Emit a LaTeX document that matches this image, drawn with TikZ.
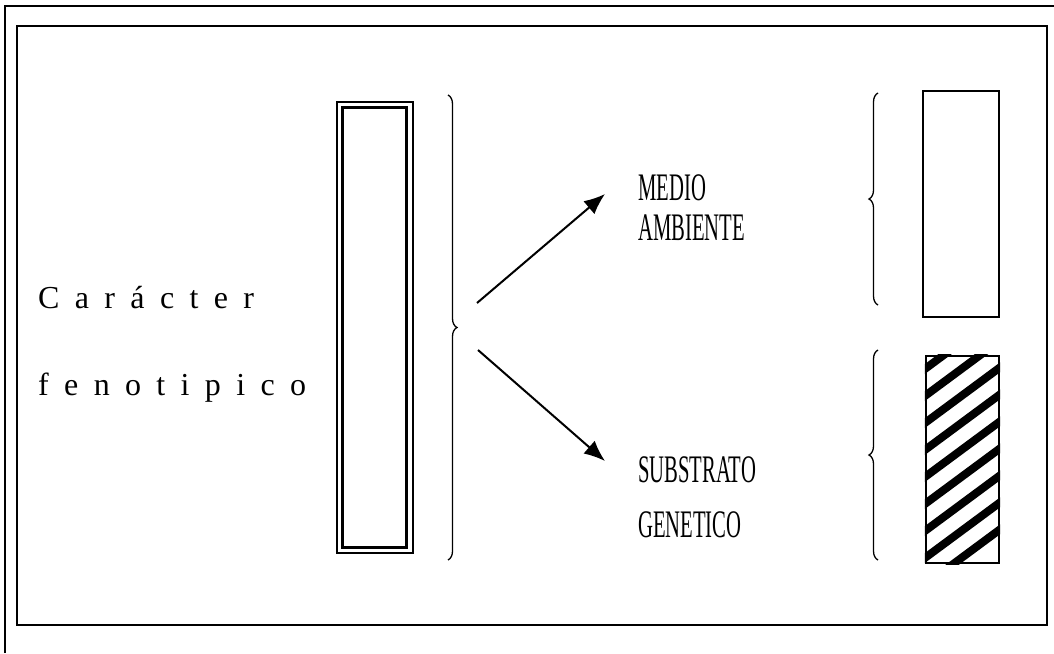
\documentclass[tikz,border=0pt]{standalone}
\usepackage{fontspec}
\setmainfont{Liberation Serif}
\newfontfamily\spaced[LetterSpace=48]{Liberation Serif}
\newfontfamily\narrow[FakeStretch=0.53]{Liberation Serif}
\usetikzlibrary{arrows.meta,decorations.pathreplacing}

\tikzset{
  frame/.style={line width=1.6pt},
  brc/.style={decorate,decoration={brace,amplitude=9pt},line width=1.3pt},
  arr/.style={line width=2pt,-{Latex[length=21pt,width=17pt]}},
  lefttext/.style={anchor=base west,inner sep=0pt,font=\fontsize{32}{32}\spaced},
  righttext/.style={anchor=base west,inner sep=0pt,font=\fontsize{39}{39}\narrow},
}

\begin{document}
\begin{tikzpicture}[x=1pt,y=-1pt]
  \useasboundingbox (0,0) rectangle (1054,653);

  % frames
  \draw[frame] (5,653)--(5,6)--(1054,6);
  \draw[frame] (17,26) rectangle (1047,625);

  % left text
  \node[lefttext] (caracter) at (38,308) {Carácter};
  \node[lefttext] (fenotipico) at (38,395) {fenotipico};

  % column
  \node[draw,line width=1.3pt,minimum width=76pt,minimum height=451pt,inner sep=0pt] (col) at (375,327.5) {};
  \draw[line width=2.6pt] ([shift={(6,6)}]col.north west) rectangle ([shift={(-7,-6)}]col.south east);

  % brace and arrows
  \draw[brc] (448,95) -- (448,560);
  \coordinate (up) at (477,303);
  \coordinate (down) at (478,350);
  \coordinate (upend) at (605,194);
  \coordinate (downend) at (605,461);
  \draw[arr] (up) -- (upend);
  \draw[arr] (down) -- (downend);

  % right texts
  \node[righttext] (medio) at (638,200) {MEDIO};
  \node[righttext] (ambiente) at (638,240) {AMBIENTE};
  \node[righttext] (substrato) at (638,482) {SUBSTRATO};
  \node[righttext] (genetico) at (638,537) {GENETICO};

  % right braces
  \draw[brc] (878,305) -- (878,93);
  \draw[brc] (878,560) -- (878,350);

  % boxes
  \node[draw,line width=1.5pt,minimum width=76pt,minimum height=226pt,inner sep=0pt] (medbox) at (961,204) {};
  \node[draw,line width=2.2pt,minimum width=73pt,minimum height=207pt,inner sep=0pt] (genbox) at (962.5,459.5) {};
  \begin{scope}
    \clip (genbox.north west) rectangle (genbox.south east);
    \foreach \k in {-2,...,8}
      \draw[line width=8pt] (910,380+\k*27) -- (1010,380+\k*27-74);
  \end{scope}
\end{tikzpicture}
\end{document}
